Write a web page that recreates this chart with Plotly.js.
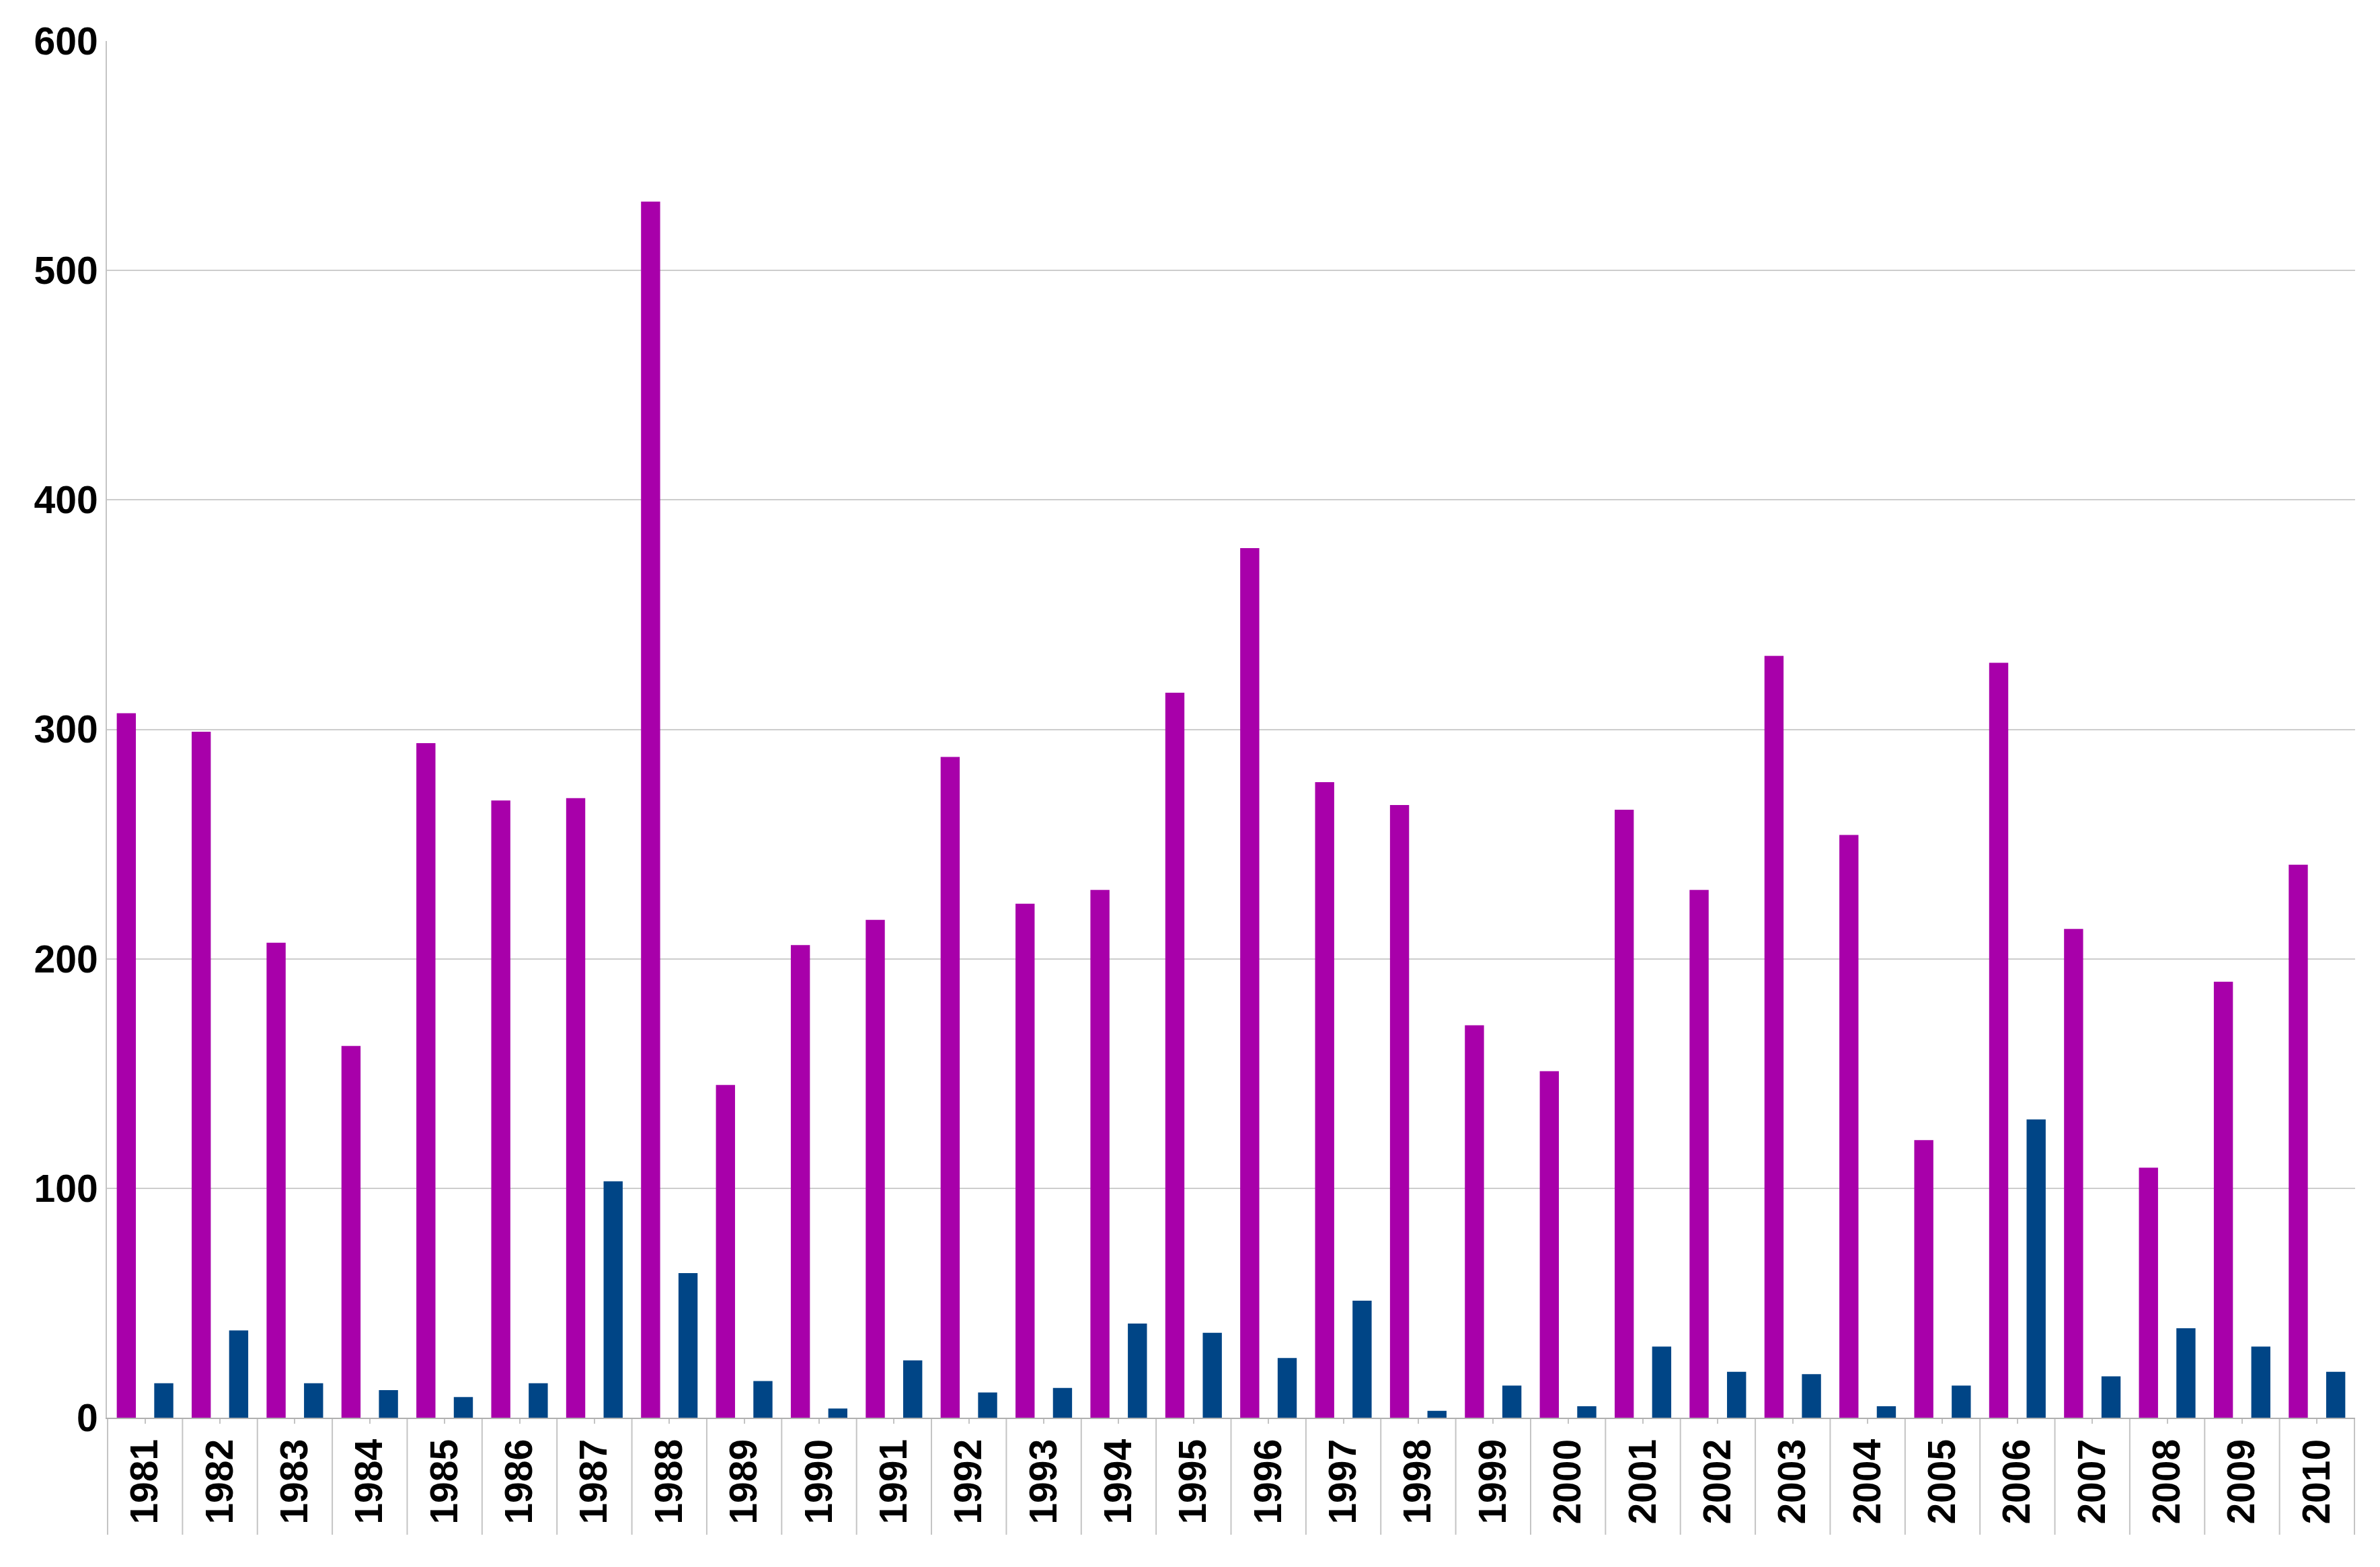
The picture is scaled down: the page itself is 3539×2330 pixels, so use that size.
<!DOCTYPE html>
<html>
<head>
<meta charset="utf-8">
<script src="https://cdn.plot.ly/plotly-3.0.1.min.js"></script>
<style>
  html, body { margin: 0; padding: 0; background: #fff; }
  #chart { width: 3539px; height: 2330px; }
</style>
</head>
<body>
<div id="chart"></div>
<script>
// years on the x axis
const years = ["1981","1982","1983","1984","1985","1986","1987","1988","1989","1990",
  "1991","1992","1993","1994","1995","1996","1997","1998","1999","2000",
  "2001","2002","2003","2004","2005","2006","2007","2008","2009","2010"];

// purple series
const purpleValues = [307, 299, 207, 162, 294, 269, 270, 530, 145, 206,
  217, 288, 224, 230, 316, 379, 277, 267, 171, 151,
  265, 230, 332, 254, 121, 329, 213, 109, 190, 241];

// blue series
const blueValues = [15, 38, 15, 12, 9, 15, 103, 63, 16, 4,
  25, 11, 13, 41, 37, 26, 51, 3, 14, 5,
  31, 20, 19, 5, 14, 130, 18, 39, 31, 20];

const yTicks = [0, 100, 200, 300, 400, 500, 600];

const purple = "#a800aa";
const blue = "#004586";
const lineGrey = "#c4c4c4";
const tickFont = { family: "Liberation Sans, Arial, sans-serif", size: 57, weight: "bold", color: "#000" };

var data = [
  {
    type: "bar",
    x: years,
    y: purpleValues,
    marker: { color: purple },
    hoverinfo: "x+y",
  },
  {
    type: "bar",
    x: years,
    y: blueValues,
    marker: { color: blue },
    hoverinfo: "x+y",
  },
];

// separators between the year columns, running down through the label band
var separators = [];
for (let i = 0; i <= years.length; i++) {
  separators.push({
    type: "line",
    xref: "x",
    yref: "paper",
    x0: i - 0.5,
    x1: i - 0.5,
    y0: 0,
    y1: -0.085,
    line: { color: lineGrey, width: 2 },
    layer: "below",
  });
}

var layout = {
  width: 3539,
  height: 2330,
  margin: { l: 159, r: 37, t: 61, b: 222 },
  paper_bgcolor: "#fff",
  plot_bgcolor: "#fff",
  showlegend: false,
  barmode: "group",
  bargap: 0,
  bargroupgap: 0.49,
  xaxis: {
    type: "category",
    tickangle: -90,
    tickfont: tickFont,
    ticks: "outside",
    ticklen: 7,
    tickwidth: 2,
    tickcolor: lineGrey,
    showgrid: false,
    showline: true,
    linecolor: "#b0b0b0",
    linewidth: 2,
    zeroline: false,
  },
  yaxis: {
    range: [0, 600],
    tickvals: yTicks,
    ticktext: yTicks.map(String),
    tickfont: tickFont,
    ticks: "",
    showgrid: true,
    gridcolor: "#cdcdcd",
    gridwidth: 2,
    showline: true,
    linecolor: lineGrey,
    linewidth: 2,
    zeroline: false,
  },
  shapes: separators,
};

Plotly.newPlot("chart", data, layout, { staticPlot: true });
</script>
</body>
</html>
